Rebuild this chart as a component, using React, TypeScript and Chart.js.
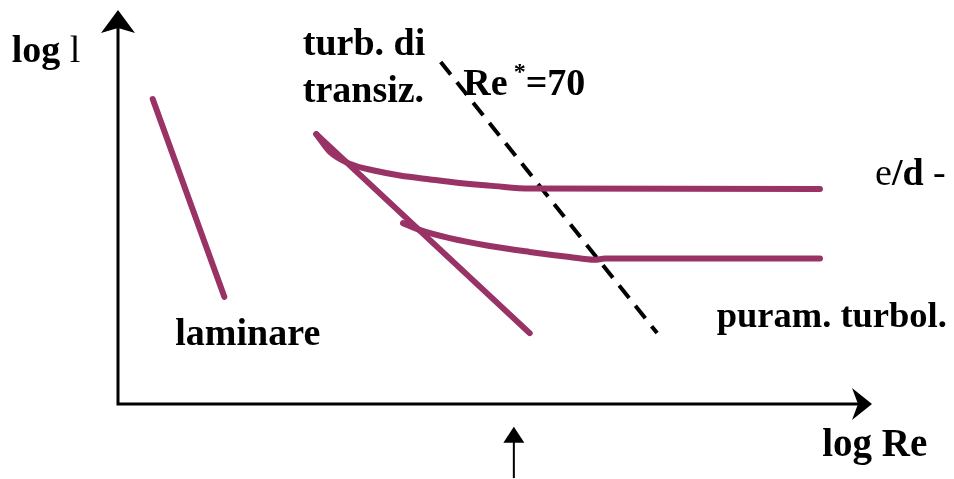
import React, { useEffect, useRef } from "react";
import { Chart, registerables } from "chart.js";

Chart.register(...registerables);

// Schematic Moody-type diagram: log λ versus log Re (arbitrary log units, 0..10 on both axes)

// laminar branch
const laminarRe = [0.46, 1.41];
const laminarLam = [7.74, 2.72];

// smooth-wall turbulent line
const smoothRe = [2.63, 5.46];
const smoothLam = [6.85, 1.8];

// rough wall, larger relative roughness
const roughHighRe = [2.63, 2.81, 3.08, 3.41, 3.74, 4.14, 4.53, 5.0, 5.46, 9.31];
const roughHighLam = [6.85, 6.4, 6.09, 5.92, 5.8, 5.7, 5.61, 5.53, 5.47, 5.46];

// rough wall, smaller relative roughness
const roughLowRe = [3.78, 4.0, 4.4, 4.93, 5.46, 5.99, 6.32, 6.46, 9.31];
const roughLowLam = [4.59, 4.42, 4.21, 4.01, 3.86, 3.73, 3.66, 3.69, 3.69];

// Re* = 70 boundary
const boundaryRe = [4.28, 7.15];
const boundaryLam = [8.68, 1.8];

// marker under the x axis
const markerRe = 5.25;
const markerLam = [-1.88, -0.58];

const MAROON = "#993366";
const SERIF = '"Liberation Serif", "Times New Roman", serif';
const BOLD = `bold 38px ${SERIF}`;
const REGULAR = `38px ${SERIF}`;

const pts = (xs: number[], ys: number[]) => xs.map((x, i) => ({ x, y: ys[i] }));

type Run = { text: string; font: string; dy?: number };

function drawRuns(ctx: CanvasRenderingContext2D, x: number, y: number, runs: Run[]) {
  let cx = x;
  for (const r of runs) {
    ctx.font = r.font;
    ctx.fillText(r.text, cx, y + (r.dy || 0));
    cx += ctx.measureText(r.text).width;
  }
}

function arrowHead(
  ctx: CanvasRenderingContext2D,
  tipX: number,
  tipY: number,
  dirX: number,
  dirY: number,
  length: number,
  half: number,
  notch: number
) {
  const px = -dirY;
  const py = dirX;
  const bx = tipX - dirX * length;
  const by = tipY - dirY * length;
  ctx.beginPath();
  ctx.moveTo(tipX, tipY);
  ctx.lineTo(bx + px * half, by + py * half);
  ctx.lineTo(tipX - dirX * (length - notch), tipY - dirY * (length - notch));
  ctx.lineTo(bx - px * half, by - py * half);
  ctx.closePath();
  ctx.fill();
}

const decorations = {
  id: "decorations",
  afterDatasetsDraw(chart: any) {
    const ctx: CanvasRenderingContext2D = chart.ctx;
    const xs = chart.scales.x;
    const ys = chart.scales.y;
    const X = (v: number) => xs.getPixelForValue(v);
    const Y = (v: number) => ys.getPixelForValue(v);
    ctx.save();
    ctx.fillStyle = "#000";
    ctx.strokeStyle = "#000";

    // axes
    ctx.lineWidth = 3;
    ctx.beginPath();
    ctx.moveTo(X(0), Y(0));
    ctx.lineTo(X(0), Y(10) + 14);
    ctx.moveTo(X(0) - 1.5, Y(0));
    ctx.lineTo(X(10) - 14, Y(0));
    ctx.stroke();
    arrowHead(ctx, X(0), Y(10), 0, -1, 23, 17, 5);
    arrowHead(ctx, X(10), Y(0), 1, 0, 20, 16, 6);

    // marker arrow
    ctx.lineWidth = 2;
    ctx.beginPath();
    ctx.moveTo(X(markerRe), Y(markerLam[0]));
    ctx.lineTo(X(markerRe), Y(markerLam[1]) + 10);
    ctx.stroke();
    arrowHead(ctx, X(markerRe), Y(markerLam[1]), 0, -1, 16, 10.5, 0);

    // labels
    ctx.textBaseline = "alphabetic";
    ctx.textAlign = "left";
    drawRuns(ctx, X(-1.41), Y(8.68), [
      { text: "log ", font: BOLD },
      { text: "l", font: REGULAR },
    ]);
    drawRuns(ctx, X(2.45), Y(8.86), [{ text: "turb. di", font: BOLD }]);
    drawRuns(ctx, X(2.45), Y(7.67), [{ text: "transiz.", font: BOLD }]);
    drawRuns(ctx, X(4.58), Y(7.84), [
      { text: "Re", font: BOLD },
      { text: " *", font: `bold 24px ${SERIF}`, dy: -16 },
      { text: "=70", font: BOLD },
    ]);
    drawRuns(ctx, X(10.04), Y(5.56), [
      { text: "e", font: REGULAR },
      { text: "/d", font: BOLD },
      { text: " -", font: REGULAR },
    ]);
    drawRuns(ctx, X(0.76), Y(1.5), [{ text: "laminare", font: BOLD }]);
    drawRuns(ctx, X(7.94), Y(1.95), [{ text: "puram. turbol.", font: `bold 36.5px ${SERIF}` }]);
    drawRuns(ctx, X(9.34), Y(-1.32), [{ text: "log Re", font: `bold 39px ${SERIF}` }]);
    ctx.restore();
  },
};

export default function App() {
  const canvasRef = useRef<HTMLCanvasElement | null>(null);

  useEffect(() => {
    if (!canvasRef.current) return;
    const curve = (xs: number[], ys: number[], smooth: boolean) => ({
      data: pts(xs, ys),
      showLine: true,
      borderColor: MAROON,
      backgroundColor: MAROON,
      borderWidth: 6,
      borderCapStyle: "round" as const,
      borderJoinStyle: "round" as const,
      pointRadius: 0,
      cubicInterpolationMode: smooth ? ("monotone" as const) : ("default" as const),
      clip: false as const,
    });
    const chart = new Chart(canvasRef.current, {
      type: "scatter",
      data: {
        datasets: [
          curve(laminarRe, laminarLam, false),
          curve(smoothRe, smoothLam, false),
          curve(roughHighRe, roughHighLam, true),
          curve(roughLowRe, roughLowLam, true),
          {
            data: pts(boundaryRe, boundaryLam),
            showLine: true,
            borderColor: "#000",
            borderWidth: 4,
            borderDash: [16, 10],
            pointRadius: 0,
            clip: false as const,
          },
        ],
      },
      options: {
        animation: false,
        responsive: false,
        layout: { padding: { left: 118, right: 82, top: 10, bottom: 75 } },
        scales: {
          x: { type: "linear", min: 0, max: 10, display: false },
          y: { type: "linear", min: 0, max: 10, display: false },
        },
        plugins: {
          legend: { display: false },
          tooltip: { enabled: false },
        },
        events: [],
      },
      plugins: [decorations],
    });
    return () => chart.destroy();
  }, []);

  return (
    <div style={{ position: "absolute", left: 0, top: 0, width: 954, height: 479, background: "#fff" }}>
      <canvas ref={canvasRef} width={954} height={479} style={{ display: "block" }} />
    </div>
  );
}
